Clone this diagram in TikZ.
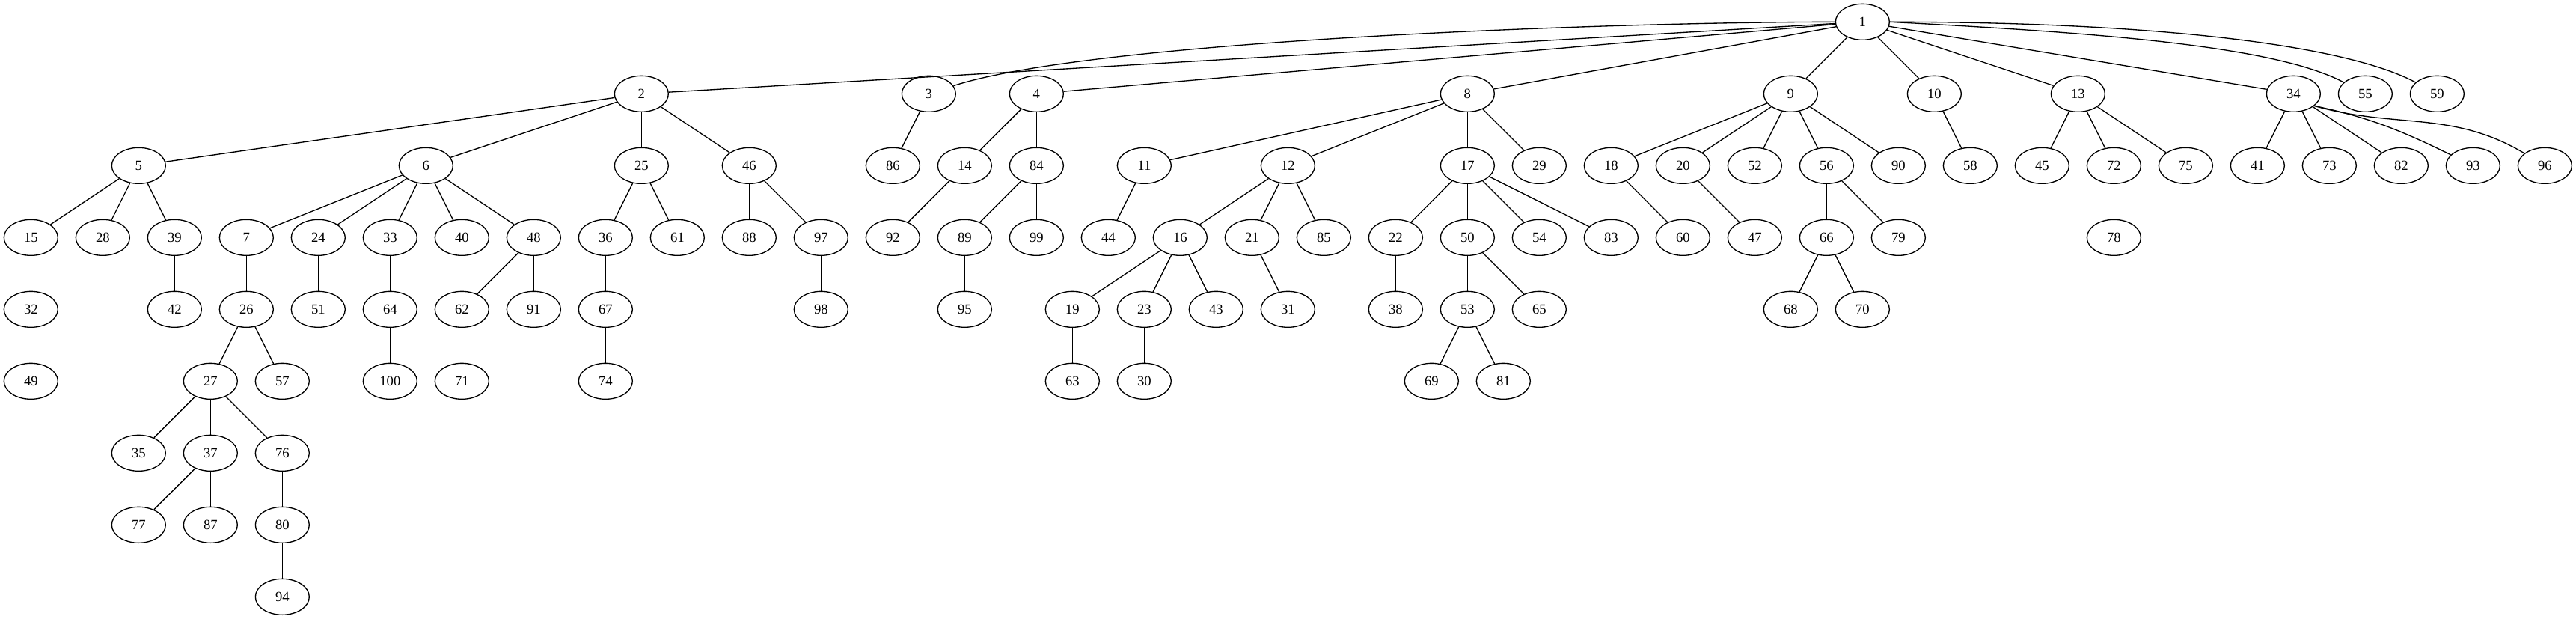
\documentclass[tikz,border=0pt]{standalone}
\usepackage{fontspec}
\setmainfont{Liberation Serif}
\usepackage{tikz}
\usetikzlibrary{shapes.geometric, positioning}

\begin{document}
\begin{tikzpicture}[x=1pt, y=1pt, line width=1pt,
	vert/.style={draw, ellipse, minimum width=54pt, minimum height=36pt, inner sep=0pt, font=\fontsize{14}{16}\selectfont}]

			\useasboundingbox (0,0) rectangle (2582.25,-620.25);

			\node [vert] (n1) at (1867,-22) {1};

			\foreach \n/\x in {2/643,3/931,4/1039,8/1471,9/1795,10/1939,13/2083,34/2299,55/2371,59/2443}
			\node [vert] (n\n) at (\x,-94) {\n};

			\foreach \n/\x in {5/139,6/427,25/643,46/751,86/895,14/967,84/1039,11/1147,12/1291,17/1471,29/1543,18/1615,20/1687,52/1759,56/1831,90/1903,58/1975,45/2047,72/2119,75/2191,41/2263,73/2335,82/2407,93/2479,96/2551}
			\node [vert] (n\n) at (\x,-166) {\n};

			\foreach \n/\x in {15/31,28/103,39/175,7/247,24/319,33/391,40/463,48/535,36/607,61/679,88/751,97/823,92/895,89/967,99/1039,44/1111,16/1183,21/1255,85/1327,22/1399,50/1471,54/1543,83/1615,60/1687,47/1759,66/1831,79/1903,78/2119}
			\node [vert] (n\n) at (\x,-238) {\n};

			\foreach \n/\x in {32/31,42/175,26/247,51/319,64/391,62/463,91/535,67/607,98/823,95/967,19/1075,23/1147,43/1219,31/1291,38/1399,53/1471,65/1543,68/1795,70/1867}
			\node [vert] (n\n) at (\x,-310) {\n};

			\foreach \n/\x in {49/31,27/211,57/283,100/391,71/463,74/607,63/1075,30/1147,69/1435,81/1507}
			\node [vert] (n\n) at (\x,-382) {\n};

			\foreach \n/\x in {35/139,37/211,76/283}
			\node [vert] (n\n) at (\x,-454) {\n};

			\foreach \n/\x in {77/139,87/211,80/283}
			\node [vert] (n\n) at (\x,-526) {\n};

			\node [vert] (n94) at (283,-598) {94};

			\foreach \a/\b in {1/2,1/4,1/8,1/9,1/10,1/13,1/34,
				2/5,2/6,2/25,2/46,3/86,4/14,4/84,8/11,8/12,8/17,8/29,
				9/18,9/20,9/52,9/56,9/90,10/58,13/45,13/72,13/75,34/41,34/73,34/82,
				5/15,5/28,5/39,6/7,6/24,6/33,6/40,6/48,25/36,25/61,46/88,46/97,
				14/92,84/89,84/99,11/44,12/16,12/21,12/85,17/22,17/50,17/54,17/83,
				18/60,20/47,56/66,56/79,72/78,
				15/32,39/42,7/26,24/51,33/64,48/62,48/91,36/67,97/98,89/95,
				16/19,16/23,16/43,21/31,22/38,50/53,50/65,66/68,66/70,
				32/49,26/27,26/57,64/100,62/71,67/74,19/63,23/30,53/69,53/81,
				27/35,27/37,27/76,37/77,37/87,76/80,80/94}
			\draw (n\a) -- (n\b);

			\draw (n1.west) to[out=180, in=18, out distance=210pt, in distance=150pt] (n3);
			\draw (n1.east) to[out=-3, in=152, out distance=200pt, in distance=80pt] (n55);
			\draw (n1.east) to[out=0, in=152, out distance=250pt, in distance=85pt] (n59);
			\draw (n34.-30) to[out=-12, in=154] (n93);
			\draw (n34.-30) to[out=-16, in=149] (n96);
			\end{tikzpicture}
\end{document}
